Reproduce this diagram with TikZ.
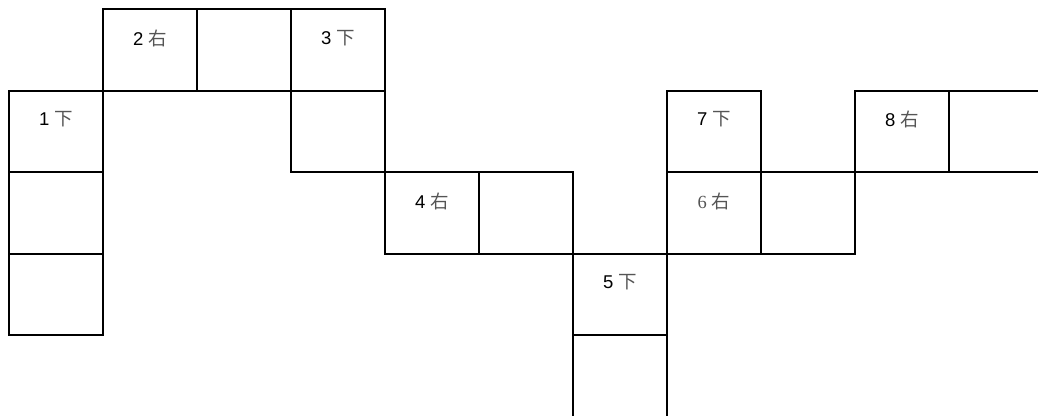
\documentclass[tikz,border=0pt]{standalone}
\usepackage{fontspec}
\setmainfont{Liberation Sans}
\newfontfamily\cjk{Noto Sans CJK SC}
\newfontfamily\numserif{Liberation Serif}
\usetikzlibrary{positioning}
\definecolor{ink}{HTML}{000000}
\definecolor{hanzi}{HTML}{555555}
\newcommand{\dir}[1]{{\cjk\color{hanzi}#1}}
\tikzset{
  cell/.style={draw=ink, line width=2pt, minimum width=94pt, minimum height=81.5pt, inner sep=0pt, outer sep=0pt},
  clue/.style={font=\fontsize{18.5}{18.5}\selectfont, inner sep=0pt, anchor=center, yshift=-29pt},
}
\begin{document}
\begin{tikzpicture}[x=1pt, y=-1pt]
    \useasboundingbox (0,0) rectangle (1038,415);
    \clip (0,0) rectangle (1038,415);
    % row 0
    \node[cell] (r2a) at (150, 49.75) {};
    \node[cell] (r2b) at (244, 49.75) {};
    \node[cell] (d3a) at (338, 49.75) {};
    % row 1
    \node[cell] (d1a) at (56, 131.25) {};
    \node[cell] (d3b) at (338, 131.25) {};
    \node[cell] (d7a) at (714, 131.25) {};
    \node[cell] (r8a) at (902, 131.25) {};
    \node[cell] (r8b) at (996, 131.25) {};
    % row 2
    \node[cell] (d1b) at (56, 212.75) {};
    \node[cell] (r4a) at (432, 212.75) {};
    \node[cell] (r4b) at (526, 212.75) {};
    \node[cell] (r6a) at (714, 212.75) {};
    \node[cell] (r6b) at (808, 212.75) {};
    % rows 3 and 4
    \node[cell] (d1c) at (56, 294.25) {};
    \node[cell] (d5a) at (620, 294.25) {};
    \node[cell] (d5b) at (620, 375.75) {};
    % clue labels
    \node[clue] (l1) at (d1a.north) {1 \dir{下}};
    \node[clue] (l2) at (r2a.north) {2 \dir{右}};
    \node[clue] (l3) at (d3a.north) {3 \dir{下}};
    \node[clue] (l4) at (r4a.north) {4 \dir{右}};
    \node[clue] (l5) at (d5a.north) {5 \dir{下}};
    \node[clue] (l6) at (r6a.north) {{\numserif\color{hanzi}6} \dir{右}};
    \node[clue] (l7) at (d7a.north) {7 \dir{下}};
    \node[clue] (l8) at (r8a.north) {8 \dir{右}};
\end{tikzpicture}
\end{document}
